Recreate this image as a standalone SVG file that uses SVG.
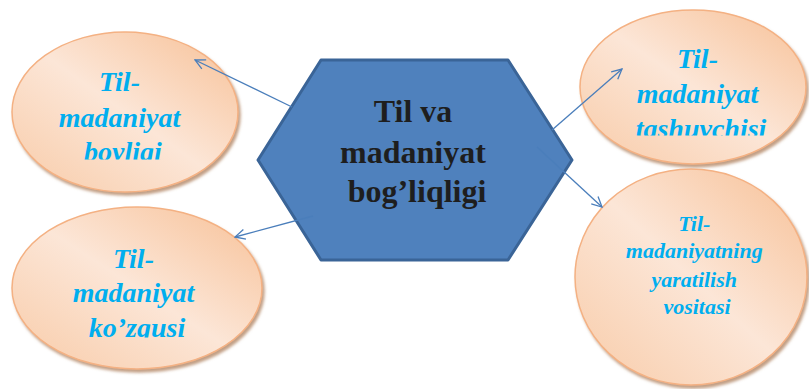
<svg xmlns="http://www.w3.org/2000/svg" width="809" height="389" viewBox="0 0 809 389">
  <defs>
    <linearGradient id="peach" x1="1" y1="0" x2="0" y2="1">
      <stop offset="0" stop-color="#F7C096"/>
      <stop offset="0.5" stop-color="#FCE6D7"/>
      <stop offset="1" stop-color="#F8CBA8"/>
    </linearGradient>
    <filter id="shadow" x="-10%" y="-10%" width="125%" height="125%">
      <feDropShadow dx="2" dy="3" stdDeviation="1.5" flood-color="#A8764F" flood-opacity="0.7"/>
    </filter>
    <marker id="arrow" viewBox="0 0 12 12" refX="11" refY="6" markerWidth="12" markerHeight="12" markerUnits="userSpaceOnUse" orient="auto">
      <path d="M1,1 L11,6 L1,11" fill="none" stroke="#4A7EBB" stroke-width="1.3"/>
    </marker>
    <clipPath id="c1"><rect x="0" y="0" width="300" height="159.5"/></clipPath>
    <clipPath id="c2"><rect x="560" y="0" width="249" height="135.5"/></clipPath>
    <clipPath id="c3"><rect x="0" y="200" width="300" height="137.5"/></clipPath>
  </defs>
  <style>
    .bubble { fill: url(#peach); stroke: #F4B183; stroke-width: 1.5; filter: url(#shadow); }
    .lbl { font-family: "Liberation Serif", "Times New Roman", serif; font-weight: bold; font-style: italic; fill: #00AEEF; text-anchor: middle; }
    .big { font-size: 28px; }
    .small { font-size: 22px; }
    .hex { fill: #4F81BD; stroke: #3A6497; stroke-width: 3; stroke-linejoin: round; }
    .hexlbl { font-family: "Liberation Serif", "Times New Roman", serif; font-weight: bold; font-size: 32px; fill: #1E1E1E; text-anchor: middle; }
    .conn { stroke: #4A7EBB; stroke-width: 1.3; fill: none; marker-end: url(#arrow); }
  </style>

  <g id="node-boyligi">
    <ellipse class="bubble" cx="125" cy="112" rx="113" ry="80"/>
    <text class="lbl big" clip-path="url(#c1)">
      <tspan x="123" y="91">Til-</tspan>
      <tspan x="123" y="127">madaniyat</tspan>
      <tspan x="123" y="161">boyligi</tspan>
    </text>
  </g>

  <g id="node-tashuvchisi">
    <ellipse class="bubble" cx="693" cy="87" rx="113" ry="77"/>
    <text class="lbl big" clip-path="url(#c2)">
      <tspan x="701" y="68">Til-</tspan>
      <tspan x="701" y="103">madaniyat</tspan>
      <tspan x="701" y="138">tashuvchisi</tspan>
    </text>
  </g>

  <g id="node-kozgusi">
    <ellipse class="bubble" cx="137" cy="288" rx="125" ry="81"/>
    <text class="lbl big" clip-path="url(#c3)">
      <tspan x="137" y="268">Til-</tspan>
      <tspan x="137" y="302">madaniyat</tspan>
      <tspan x="137" y="337">ko’zgusi</tspan>
    </text>
  </g>

  <g id="node-vositasi">
    <ellipse class="bubble" cx="691" cy="277" rx="116" ry="108"/>
    <text class="lbl small">
      <tspan x="697" y="231">Til-</tspan>
      <tspan x="697" y="258">madaniyatning</tspan>
      <tspan x="697" y="287">yaratilish</tspan>
      <tspan x="697" y="314">vositasi</tspan>
    </text>
  </g>

  <g id="node-center">
    <polygon class="hex" points="258,160 321,60 508,60 572,160 508,260 321,260"/>
    <text class="hexlbl">
      <tspan x="417" y="122">Til va</tspan>
      <tspan x="417" y="163">madaniyat</tspan>
      <tspan x="417" y="202">bog’liqligi</tspan>
    </text>
  </g>

  <g id="connectors">
    <line class="conn" x1="292" y1="107" x2="195" y2="60"/>
    <line class="conn" x1="552" y1="130" x2="622" y2="69"/>
    <line class="conn" x1="537" y1="147" x2="602" y2="207"/>
    <line class="conn" x1="313" y1="216" x2="235" y2="237"/>
  </g>
</svg>
